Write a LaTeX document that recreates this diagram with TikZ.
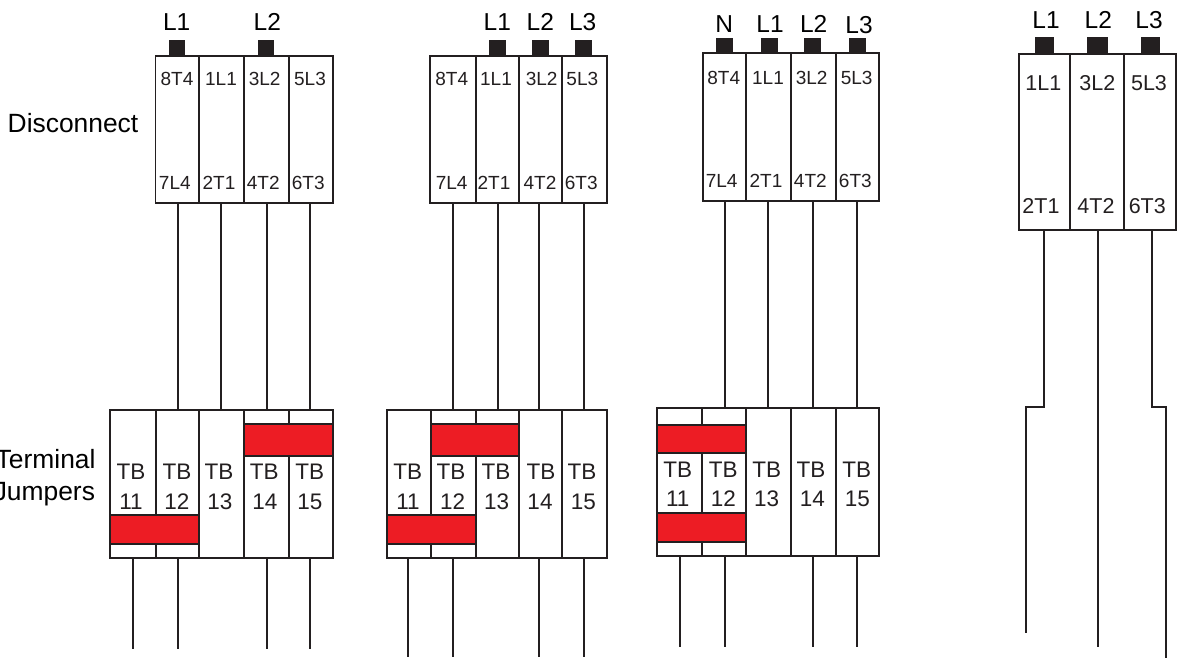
\documentclass[tikz,border=0pt]{standalone}
\usepackage{fontspec}
\setmainfont{Liberation Sans}
\definecolor{ink}{HTML}{231F20}
\definecolor{jumper}{HTML}{ED1C24}
\tikzset{
  x=1pt,y=-1pt,
  cellbox/.style={draw=ink,line width=1.9pt,fill=white,inner sep=0pt,outer sep=0pt},
  jumperbar/.style={cellbox,fill=jumper},
  lugbox/.style={fill=ink,draw=none,inner sep=0pt,outer sep=0pt},
  wire/.style={draw=ink,line width=1.9pt,line cap=butt,line join=miter},
  txt/.style={anchor=base,inner sep=0pt,outer sep=0pt,text=ink},
  phase/.style={txt,text=black,font=\fontsize{24.5}{24.5}\selectfont},
  side/.style={txt,text=black,font=\fontsize{26.4}{26.4}\selectfont},
  sidert/.style={side,anchor=base east},
  pole/.style={txt,font=\fontsize{19}{19}\selectfont},
  poleB/.style={txt,font=\fontsize{21.5}{21.5}\selectfont},
  tb/.style={txt,font=\fontsize{22.5}{22.5}\selectfont},
}
% name, x0, x1, y0, y1, style
\newcommand{\cellat}[6]{\node[#6,minimum width={(#3)-(#2)},minimum height={(#5)-(#4)}] (#1) at ({((#2)+(#3))/2},{((#4)+(#5))/2}) {};}
% name, x, y top, y bottom
\newcommand{\wirerun}[4]{\coordinate (#1a) at (#2,#3); \coordinate (#1b) at (#2,#4); \draw[wire] (#1a) -- (#1b);}
\begin{document}
\begin{tikzpicture}
\useasboundingbox (0,0) rectangle (1179,658);
\node[side] (lblDisc) at (73,133) {Disconnect};
\node[sidert] (lblTerm) at (95.5,468) {Terminal};
\node[sidert] (lblJump) at (95,500.7) {Jumpers};

% ---------- Diagram A
\wirerun{aw1}{178.3}{202.7}{410}\wirerun{aw2}{221.3}{202.7}{410}\wirerun{aw3}{266.7}{202.7}{410}\wirerun{aw4}{309.7}{202.7}{410}
\wirerun{ax1}{133.3}{558}{649}\wirerun{ax2}{178.3}{558}{649}\wirerun{ax3}{266.7}{558}{649}\wirerun{ax4}{309.7}{558}{649}
\cellat{alug1}{169}{185}{40}{56}{lugbox}\cellat{alug2}{257.7}{273.7}{40}{56}{lugbox}
\cellat{ad1}{155.5}{199}{55.7}{202.7}{cellbox}\cellat{ad2}{199}{244.3}{55.7}{202.7}{cellbox}\cellat{ad3}{244.3}{289.3}{55.7}{202.7}{cellbox}\cellat{ad4}{289.3}{332.7}{55.7}{202.7}{cellbox}
\cellat{at1}{110.3}{155.7}{410}{558}{cellbox}\cellat{at2}{155.7}{199}{410}{558}{cellbox}\cellat{at3}{199}{244.3}{410}{558}{cellbox}\cellat{at4}{244.3}{289.3}{410}{558}{cellbox}\cellat{at5}{289.3}{332.7}{410}{558}{cellbox}
\cellat{aj1}{244.3}{332.7}{424.3}{455.7}{jumperbar}\cellat{aj2}{110.3}{199}{515}{544}{jumperbar}
\foreach \n/\x/\t in {a/176.7/L1,b/267.3/L2}{\node[phase] (aph\n) at (\x,30.7) {\t};}
\foreach \n/\x/\t in {a/177/8T4,b/221/1L1,c/264.7/3L2,d/310/5L3}{\node[pole] (apt\n) at (\x,86) {\t};}
\foreach \n/\x/\t in {a/174.8/7L4,b/219/2T1,c/263.3/4T2,d/308.2/6T3}{\node[pole] (apb\n) at (\x,189.3) {\t};}
\foreach \n/\x/\xx/\t in {a/131/131/11,b/177/177/12,c/219/220/13,d/264.3/265/14,e/309.7/310/15}{
  \node[tb] (atb\n) at (\x,479) {TB}; \node[tb] (atn\n) at (\xx,509) {\t};}

% ---------- Diagram B
\wirerun{bw1}{453.3}{203}{410}\wirerun{bw2}{498.3}{203}{410}\wirerun{bw3}{539.3}{203}{410}\wirerun{bw4}{584.3}{203}{410}
\wirerun{bx1}{408}{558}{656.7}\wirerun{bx2}{453.3}{558}{656.7}\wirerun{bx3}{539.3}{558}{656.7}\wirerun{bx4}{584.3}{558}{656.7}
\cellat{blug1}{489}{505.7}{40}{56}{lugbox}\cellat{blug2}{532}{548.7}{40}{56}{lugbox}\cellat{blug3}{575.3}{592}{40}{56}{lugbox}
\cellat{bd1}{430.3}{475.7}{55.7}{203}{cellbox}\cellat{bd2}{475.7}{518.7}{55.7}{203}{cellbox}\cellat{bd3}{518.7}{562}{55.7}{203}{cellbox}\cellat{bd4}{562}{607.3}{55.7}{203}{cellbox}
\cellat{bt1}{387.3}{430.7}{410}{558}{cellbox}\cellat{bt2}{430.7}{475.7}{410}{558}{cellbox}\cellat{bt3}{475.7}{518.7}{410}{558}{cellbox}\cellat{bt4}{518.7}{562}{410}{558}{cellbox}\cellat{bt5}{562}{607.3}{410}{558}{cellbox}
\cellat{bj1}{430.7}{518.7}{424.3}{455.7}{jumperbar}\cellat{bj2}{387.3}{475.7}{515}{544}{jumperbar}
\foreach \n/\x/\t in {a/497.3/L1,b/540.3/L2,c/582.7/L3}{\node[phase] (bph\n) at (\x,30.7) {\t};}
\foreach \n/\x/\t in {a/451.7/8T4,b/496/1L1,c/541.7/3L2,d/582.3/5L3}{\node[pole] (bpt\n) at (\x,86) {\t};}
\foreach \n/\x/\t in {a/451.7/7L4,b/494/2T1,c/540/4T2,d/581.3/6T3}{\node[pole] (bpb\n) at (\x,189.3) {\t};}
\foreach \n/\x/\xx/\t in {a/407.7/408/11,b/451/452.7/12,c/496/496.7/13,d/541/540/14,e/582/583.3/15}{
  \node[tb] (btb\n) at (\x,479) {TB}; \node[tb] (btn\n) at (\xx,509) {\t};}

% ---------- Diagram C
\wirerun{cw1}{725}{201.3}{408.3}\wirerun{cw2}{768.3}{201.3}{408.3}\wirerun{cw3}{813.3}{201.3}{408.3}\wirerun{cw4}{856.7}{201.3}{408.3}
\wirerun{cx1}{680}{556}{647.3}\wirerun{cx2}{725}{556}{647.3}\wirerun{cx3}{813.3}{556}{647.3}\wirerun{cx4}{856.7}{556}{647.3}
\cellat{club1}{716}{732.7}{38.3}{54}{lugbox}\cellat{club2}{761}{777.7}{38.3}{54}{lugbox}\cellat{club3}{804}{820.7}{38.3}{54}{lugbox}\cellat{club4}{849.3}{866}{38.3}{54}{lugbox}
\cellat{cd1}{702.7}{745.7}{53.3}{201.3}{cellbox}\cellat{cd2}{745.7}{790.7}{53.3}{201.3}{cellbox}\cellat{cd3}{790.7}{836}{53.3}{201.3}{cellbox}\cellat{cd4}{836}{879.3}{53.3}{201.3}{cellbox}
\cellat{ct1}{657.3}{702.3}{408.3}{556}{cellbox}\cellat{ct2}{702.3}{746}{408.3}{556}{cellbox}\cellat{ct3}{746}{791}{408.3}{556}{cellbox}\cellat{ct4}{791}{836}{408.3}{556}{cellbox}\cellat{ct5}{836}{879.3}{408.3}{556}{cellbox}
\cellat{cj1}{657.3}{746}{424.7}{453}{jumperbar}\cellat{cj2}{657.3}{746}{513.3}{542}{jumperbar}
\foreach \n/\x/\y/\t in {a/724.3/32.3/N,b/770/32.3/L1,c/813.7/32.3/L2,d/859/33.3/L3}{\node[phase] (cph\n) at (\x,\y) {\t};}
\foreach \n/\x/\t in {a/723.7/8T4,b/768/1L1,c/811.7/3L2,d/856.7/5L3}{\node[pole] (cpt\n) at (\x,85) {\t};}
\foreach \n/\x/\t in {a/721.7/7L4,b/766/2T1,c/810.3/4T2,d/855.3/6T3}{\node[pole] (cpb\n) at (\x,187.3) {\t};}
\foreach \n/\x/\xx/\t in {a/677.7/677.7/11,b/723.3/723.3/12,c/766.7/766.7/13,d/811/812.3/14,e/856.7/857.3/15}{
  \node[tb] (ctb\n) at (\x,477.7) {TB}; \node[tb] (ctn\n) at (\xx,506.7) {\t};}

% ---------- Diagram D
\cellat{dlug1}{1035.3}{1054.3}{36.7}{55}{lugbox}\cellat{dlug2}{1086.7}{1108.3}{36.7}{55}{lugbox}\cellat{dlug3}{1140.7}{1160}{36.7}{55}{lugbox}
\cellat{dd1}{1019}{1070.3}{54}{230.3}{cellbox}\cellat{dd2}{1070.3}{1124.3}{54}{230.3}{cellbox}\cellat{dd3}{1124.3}{1176}{54}{230.3}{cellbox}
\coordinate (dw1a) at (1043.7,230.3);\coordinate (dw1k) at (1043.7,406.7);\coordinate (dw1m) at (1026.3,406.7);\coordinate (dw1b) at (1026.3,633.3);
\draw[wire] (dw1a) -- (dw1k) -- (dw1m) -- (dw1b);
\wirerun{dw2}{1097.7}{230.3}{647.3}
\coordinate (dw3a) at (1151.7,230.3);\coordinate (dw3k) at (1151.7,406.7);\coordinate (dw3m) at (1166,406.7);\coordinate (dw3b) at (1166,658);
\draw[wire] (dw3a) -- (dw3k) -- (dw3m) -- (dw3b);
\foreach \n/\x/\t in {a/1046/L1,b/1098.3/L2,c/1149/L3}{\node[phase] (dph\n) at (\x,29) {\t};}
\foreach \n/\x/\t in {a/1043.3/1L1,b/1097.3/3L2,c/1149/5L3}{\node[poleB] (dpt\n) at (\x,91) {\t};}
\foreach \n/\x/\t in {a/1041/2T1,b/1096/4T2,c/1147.3/6T3}{\node[poleB] (dpb\n) at (\x,214) {\t};}
\end{tikzpicture}
\end{document}
